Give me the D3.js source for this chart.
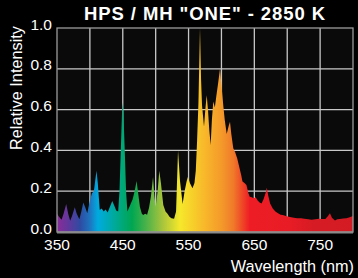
<!DOCTYPE html>
<html><head><meta charset="utf-8">
<script src="https://cdn.jsdelivr.net/npm/d3@7"></script>
<style>
html,body{margin:0;padding:0;background:#000;}
svg{display:block;}
text{font-family:"Liberation Sans",Arial,sans-serif;fill:#fff;}
</style></head>
<body>
<script>
const title = 'HPS / MH "ONE" - 2850 K';
const xLabel = "Wavelength (nm)";
const yLabel = "Relative Intensity";
const xTicks = [350, 450, 550, 650, 750];
const xGrid = [400, 450, 500, 550, 600, 650, 700, 750];
const yTicks = [0, 0.2, 0.4, 0.6, 0.8, 1.0];

const wavelengths = [350,353,357,360,364,367,370,373,377,380,384,387,390,393,396,399,403,406,408,410,412,415,418,421,424,427,430,434,437,440,443,445,447,449,450,451,453,455,457,461,465,468,471,473,476,479,481,484,487,490,493,496,498,500,503,505.5,508,511.6,515,518,521,524,528,531,534,537,541,544,547,549,552,556,559,561,563,565,567.4,569,570.5,573.5,575.5,577.6,579.5,581.5,583.6,585.5,587.6,590,592,595,597.8,600,602.8,605,608,611,613,615,618,621,624,627,630,632,635,638,641,643,646,649,652,655,658,661,664,667,669,671,674,678,682,686,690,693,698,704,710,715,721,726,732,737,743,748,752,758,762,765,768,772.6,776,780,785,790,795,800];
const intensity = [0.09,0.075,0.06,0.09,0.137,0.09,0.055,0.08,0.121,0.09,0.062,0.10,0.144,0.12,0.092,0.14,0.19,0.20,0.25,0.30,0.24,0.108,0.115,0.10,0.11,0.095,0.12,0.152,0.13,0.105,0.10,0.2,0.4,0.6,0.634,0.58,0.4,0.2,0.10,0.13,0.16,0.2,0.25,0.2,0.124,0.09,0.083,0.09,0.085,0.12,0.18,0.27,0.18,0.124,0.2,0.30,0.24,0.132,0.10,0.09,0.075,0.067,0.065,0.10,0.40,0.25,0.137,0.2,0.247,0.27,0.24,0.214,0.24,0.30,0.45,0.63,1.0,0.75,0.62,0.516,0.6,0.67,0.6,0.5,0.426,0.55,0.64,0.61,0.66,0.73,0.80,0.72,0.62,0.55,0.48,0.52,0.54,0.48,0.41,0.39,0.36,0.32,0.28,0.247,0.24,0.23,0.19,0.173,0.17,0.165,0.17,0.155,0.145,0.14,0.16,0.19,0.217,0.18,0.14,0.115,0.10,0.092,0.085,0.083,0.078,0.073,0.07,0.068,0.068,0.065,0.062,0.06,0.062,0.065,0.064,0.064,0.078,0.092,0.07,0.056,0.062,0.064,0.066,0.068,0.072,0.078];

const gradNm = [350,370,385,400,412,430,443,464,490,510,537,575,600,618,643,704,740,800];
const gradColors = ["#8b2b97","#5a3a9e","#2f4aa1","#1e74bf","#00aadf","#00aab0","#00a98a","#00a651","#5bb548","#a6c43c","#f6e82a","#f8b72a","#f49a2a","#f07a2a","#ee1d25","#e81c25","#d61b24","#d41b24"];

const W = 358, H = 278;
const m = {left:57, right:353, top:28, bottom:232};
const x = d3.scaleLinear().domain([350,800]).range([m.left, m.right]);
const y = d3.scaleLinear().domain([0,1]).range([m.bottom, m.top]);

const svg = d3.select("body").append("svg").attr("width", W).attr("height", H);
svg.append("rect").attr("width", W).attr("height", H).attr("fill", "#000");
svg.append("rect").attr("x", m.left).attr("y", m.top).attr("width", m.right-m.left).attr("height", m.bottom-m.top).attr("fill", "#0a0a0a");

// gridlines
const grid = svg.append("g").attr("stroke", "#c8c8c8").attr("stroke-width", 1.3);
grid.selectAll("line.v").data(xGrid).join("line").attr("class","v")
  .attr("x1", d=>x(d)).attr("x2", d=>x(d)).attr("y1", m.top).attr("y2", m.bottom);
grid.selectAll("line.h").data(yTicks.slice(1,5)).join("line").attr("class","h")
  .attr("x1", m.left).attr("x2", m.right).attr("y1", d=>y(d)).attr("y2", d=>y(d));

// gradient
const defs = svg.append("defs");
const lg = defs.append("linearGradient").attr("id","spec").attr("gradientUnits","userSpaceOnUse")
  .attr("x1", x(350)).attr("x2", x(800)).attr("y1", 0).attr("y2", 0);
lg.selectAll("stop").data(gradNm).join("stop")
  .attr("offset", d => (d-350)/450).attr("stop-color", (d,i) => gradColors[i]);

const pts = wavelengths.map((w,i)=>[w, intensity[i]]);
const area = d3.area().x(d=>x(d[0])).y0(y(0)).y1(d=>y(d[1]));
svg.append("path").datum(pts).attr("d", area).attr("fill","url(#spec)");

// frame
svg.append("rect").attr("x", m.left).attr("y", m.top).attr("width", m.right-m.left).attr("height", m.bottom-m.top)
  .attr("fill","none").attr("stroke","#9a9a9a").attr("stroke-width",1.3);
svg.append("line").attr("x1", m.left).attr("x2", m.right).attr("y1", m.bottom+0.5).attr("y2", m.bottom+0.5)
  .attr("stroke","#8a8a8a").attr("stroke-width",2);

// tick labels
svg.selectAll("text.yt").data(yTicks).join("text").attr("class","yt")
  .attr("x", 52).attr("y", d=>y(d)+1.5).attr("text-anchor","end").attr("font-size",15.5)
  .text(d=>d.toFixed(1));
svg.selectAll("text.xt").data(xTicks).join("text").attr("class","xt")
  .attr("x", d=>x(d)).attr("y", 250).attr("text-anchor","middle").attr("font-size",15.5)
  .text(d=>d);

svg.append("text").attr("x", 354).attr("y", 272).attr("text-anchor","end").attr("font-size",16.3).text(xLabel);
svg.append("text").attr("transform","translate(22,150) rotate(-90)").attr("text-anchor","start").attr("font-size",16.3).text(yLabel);
svg.append("text").attr("x", 205).attr("y", 20).attr("text-anchor","middle").attr("font-size",18.5)
  .attr("font-weight","bold").attr("letter-spacing",0.9).text(title);
</script>
</body></html>
